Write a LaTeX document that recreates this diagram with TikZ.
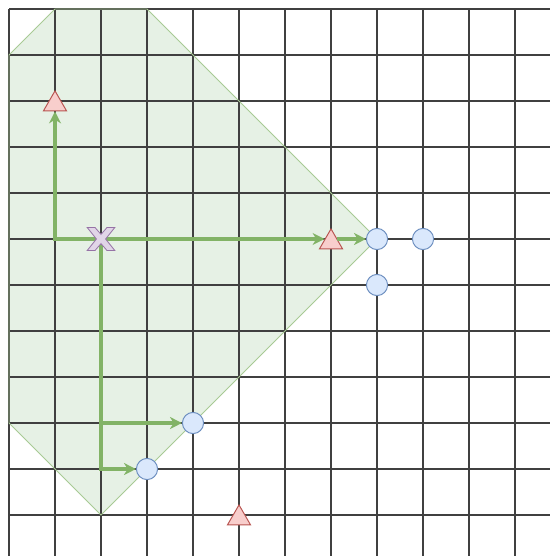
\documentclass[tikz,border=0pt]{standalone}
\usetikzlibrary{arrows.meta,shapes.geometric}
\definecolor{greenfill}{HTML}{D5E8D4}
\definecolor{greenline}{HTML}{82B366}
\definecolor{bluefill}{HTML}{DAE8FC}
\definecolor{blueline}{HTML}{6C8EBF}
\definecolor{redfill}{HTML}{F8CECC}
\definecolor{redline}{HTML}{B85450}
\definecolor{purplefill}{HTML}{E1D5E7}
\definecolor{purpleline}{HTML}{9673A6}
\begin{document}
\begin{tikzpicture}[x=1cm,y=-1cm,>={Stealth[length=2.6mm,width=2.6mm,inset=0.8mm]},
  gridline/.style={draw=black!75,line width=0.75pt},
  tri/.style={regular polygon,regular polygon sides=3,draw=redline,fill=redfill,minimum size=5.8mm,inner sep=0pt,line width=0.6pt,yshift=-0.7mm},
  pt/.style={circle,draw=blueline,fill=bluefill,minimum size=4.6mm,inner sep=0pt,line width=0.6pt},
  move/.style={draw=greenline,line width=2.1pt}]
\useasboundingbox (-0.1957,-0.1957) rectangle (11.761,11.891);
% reachable region
\fill[greenfill,opacity=0.6] (1,0) -- (3,0) -- (8,5) -- (2,11) -- (0,9) -- (0,1) -- cycle;
\foreach \i in {0,...,11} {
  \draw[gridline] (\i,0) -- (\i,11.891);
  \draw[gridline] (0,\i) -- (11.761,\i);
}
\draw[greenline!70,line width=0.5pt] (1,0) -- (3,0) -- (8,5) -- (2,11) -- (0,9) -- (0,1) -- cycle;
% targets and points
\node[tri] (t1) at (1,2) {};
\node[tri] (t2) at (7,5) {};
\node[tri] (t3) at (5,11) {};
\node[pt] (c1) at (8,5) {};
\node[pt] (c2) at (9,5) {};
\node[pt] (c3) at (8,6) {};
\node[pt] (c4) at (4,9) {};
\node[pt] (c5) at (3,10) {};
\coordinate (x) at (2,5);
\coordinate (b1) at (2,9);
% moves
\draw[move,<->] (t1) |- ([shift={(0.4mm,0.7mm)}]t2.west);
\draw[move,->] ([shift={(-0.4mm,0.7mm)}]t2.east) -- (c1);
\draw[move,->] (x) |- (c5);
\draw[move,->] (b1) -- (c4);
% start
\begin{scope}[shift={(x)}]
\filldraw[fill=purplefill,draw=purpleline,line width=0.5pt] (-0.3,-0.25) -- (-0.13,-0.25) -- (0,-0.1) -- (0.13,-0.25) -- (0.3,-0.25) -- (0.1,0) -- (0.3,0.25) -- (0.13,0.25) -- (0,0.1) -- (-0.13,0.25) -- (-0.3,0.25) -- (-0.1,0) -- cycle;
\end{scope}
\end{tikzpicture}
\end{document}
